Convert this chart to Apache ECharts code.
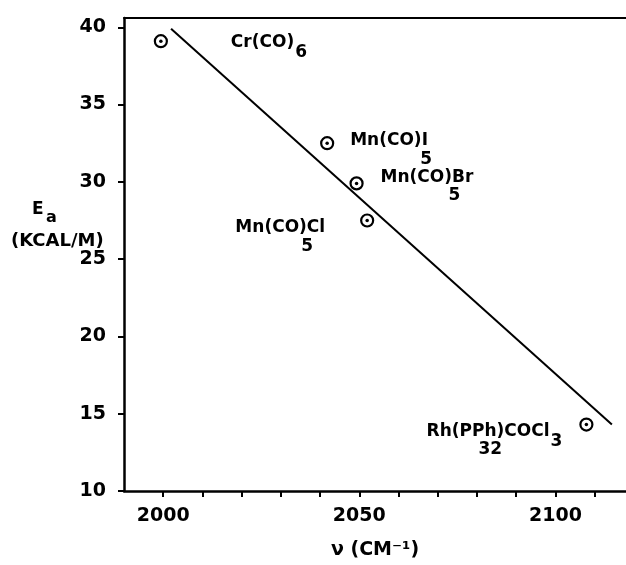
<!DOCTYPE html>
<html>
<head>
<meta charset="utf-8">
<script src="https://cdn.jsdelivr.net/npm/echarts@6/dist/echarts.min.js"></script>
<style>
html, body { margin: 0; padding: 0; background: #fff; }
#chart { width: 626px; height: 565px; }
</style>
</head>
<body>
<div id="chart"></div>
<script>
// carbonyl complexes: CO stretching frequency vs activation energy
var compounds = ['Cr(CO)6', 'Mn(CO)5I', 'Mn(CO)5Br', 'Mn(CO)5Cl', 'Rh(PPh3)2COCl3'];
var wavenumber = [1999.4, 2041.8, 2049.3, 2052.0, 2107.9];
var activation = [39.1, 32.5, 29.9, 27.5, 14.3];

// label pieces as lettered on the plot
var labelMain = ['Cr(CO)', 'Mn(CO)I', 'Mn(CO)Br', 'Mn(CO)Cl', 'Rh(PPh)COCl'];
var labelInlineSub = ['6', '', '', '', '3'];
var labelLowSub = ['', '5', '5', '5', '32'];

// least squares line drawn through the points
var fitX = [2002.0, 2114.4];
var fitY = [39.9, 14.3];

var xTicks = [2000, 2010, 2020, 2030, 2040, 2050, 2060, 2070, 2080, 2090, 2100, 2110];
var xLabels = [2000, 2050, 2100];
var yTicks = [10, 15, 20, 25, 30, 35, 40];

var FONT = 'DejaVu Sans';

var mainPos = [
    {offset: [70, -7], align: 'left'},
    {offset: [23, -11], align: 'left'},
    {offset: [24, -14], align: 'left'},
    {offset: [-42, -1], align: 'right'},
    {offset: [-24, -1], align: 'right'}
];
var lowPos = [
    {offset: [0, 0], align: 'left'},
    {offset: [93, 16], align: 'left'},
    {offset: [92, 12], align: 'left'},
    {offset: [-66, 26], align: 'left'},
    {offset: [-108, 25], align: 'left'}
];

var circleData = [];
var dotData = [];
wavenumber.forEach(function (x, i) {
    circleData.push({
        name: compounds[i],
        value: [x, activation[i]],
        label: {
            offset: mainPos[i].offset,
            align: mainPos[i].align,
            formatter: '{m|' + labelMain[i] + '}' + (labelInlineSub[i] ? '{s|' + labelInlineSub[i] + '}' : '')
        }
    });
    dotData.push({
        name: compounds[i],
        value: [x, activation[i]],
        label: {
            offset: lowPos[i].offset,
            align: lowPos[i].align,
            formatter: labelLowSub[i]
        }
    });
});

var fitData = fitX.map(function (x, i) { return [x, fitY[i]]; });

var chart = echarts.init(document.getElementById('chart'));
chart.setOption({
    backgroundColor: '#fff',
    animation: false,
    grid: {left: 124, right: 0, top: 18, bottom: 68},
    xAxis: [
        {
            type: 'value',
            min: 1990,
            max: 2118,
            name: 'ν (CM⁻¹)',
            nameLocation: 'middle',
            nameGap: 50,
            nameTextStyle: {fontFamily: FONT, fontSize: 19, fontWeight: 'bold', color: '#000'},
            axisLine: {lineStyle: {color: '#000', width: 2.5}},
            axisTick: {show: true, inside: false, length: 6, lineStyle: {color: '#000', width: 2}, customValues: xTicks},
            axisLabel: {
                customValues: xLabels, margin: 16, fontFamily: FONT, fontSize: 19, fontWeight: 'bold', color: '#000',
                formatter: function (v) { return String(v); }
            },
            splitLine: {show: false}
        },
        {
            type: 'value',
            position: 'top',
            min: 1990,
            max: 2118,
            axisLine: {show: true, lineStyle: {color: '#000', width: 2}},
            axisTick: {show: false},
            axisLabel: {show: false},
            splitLine: {show: false}
        }
    ],
    yAxis: {
        type: 'value',
        min: 10,
        max: 40.6,
        axisLine: {show: true, lineStyle: {color: '#000', width: 2.5}},
        axisTick: {show: true, inside: false, length: 6, lineStyle: {color: '#000', width: 2}, customValues: yTicks},
        axisLabel: {customValues: yTicks, margin: 18, fontFamily: FONT, fontSize: 19, fontWeight: 'bold', color: '#000'},
        splitLine: {show: false}
    },
    graphic: [
        {type: 'text', x: 32, y: 210, style: {text: 'E', fontFamily: FONT, fontSize: 17, fontWeight: 'bold', fill: '#000', verticalAlign: 'middle'}},
        {type: 'text', x: 46, y: 218, style: {text: 'a', fontFamily: FONT, fontSize: 16, fontWeight: 'bold', fill: '#000', verticalAlign: 'middle'}},
        {type: 'text', x: 11, y: 241, style: {text: '(KCAL/M)', fontFamily: FONT, fontSize: 18, fontWeight: 'bold', fill: '#000', verticalAlign: 'middle'}}
    ],
    series: [
        {
            name: 'fit',
            type: 'line',
            data: fitData,
            symbol: 'none',
            lineStyle: {color: '#000', width: 2},
            z: 2
        },
        {
            name: 'points',
            type: 'scatter',
            data: circleData,
            symbol: 'circle',
            symbolSize: 12,
            itemStyle: {color: 'rgba(0,0,0,0)', borderColor: '#000', borderWidth: 2.2, opacity: 1},
            label: {
                show: true,
                position: 'inside',
                verticalAlign: 'top',
                color: '#000',
                textBorderWidth: 0,
                rich: {
                    m: {fontFamily: FONT, fontSize: 17, fontWeight: 'bold', lineHeight: 20, verticalAlign: 'top', color: '#000'},
                    s: {fontFamily: FONT, fontSize: 17, fontWeight: 'bold', lineHeight: 16, padding: [10, 0, 0, 1], verticalAlign: 'top', color: '#000'}
                }
            },
            z: 3
        },
        {
            name: 'centres',
            type: 'scatter',
            data: dotData,
            symbol: 'circle',
            symbolSize: 3.5,
            itemStyle: {color: '#000', opacity: 1},
            label: {
                show: true,
                position: 'inside',
                verticalAlign: 'middle',
                fontFamily: FONT,
                fontSize: 17,
                fontWeight: 'bold',
                color: '#000',
                textBorderWidth: 0
            },
            z: 4
        }
    ]
});
</script>
</body>
</html>
